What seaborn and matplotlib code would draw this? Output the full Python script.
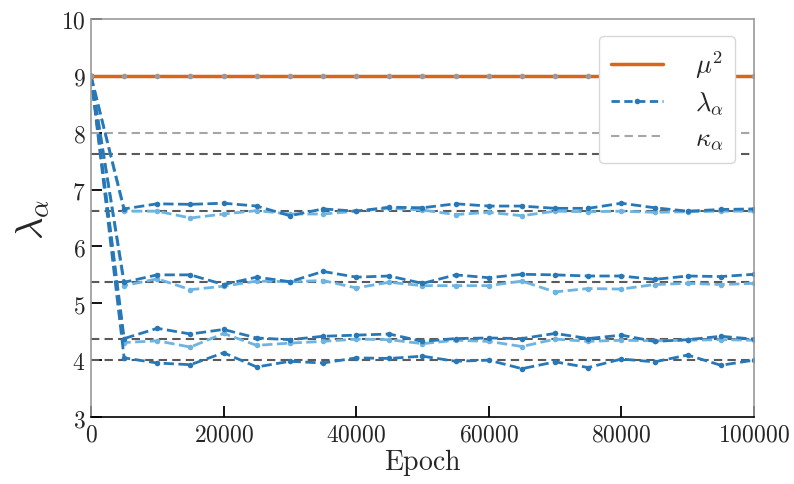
import matplotlib
matplotlib.use("Agg")
import matplotlib.pyplot as plt
from matplotlib.ticker import FuncFormatter, MultipleLocator, FixedLocator
from matplotlib.lines import Line2D
import seaborn as sns

# epochs sampled every 5000
epochs = list(range(0, 100001, 5000))

mu_sq = 9.0
kappa_light = [8.0]
kappa_dark = [7.62, 6.62, 5.38, 4.38, 4.0]

# lambda_alpha trajectories
lam_66_dark = [9, 6.66, 6.75, 6.74, 6.76, 6.71, 6.54, 6.66, 6.62, 6.69, 6.68,
               6.75, 6.71, 6.71, 6.67, 6.67, 6.76, 6.68, 6.62, 6.65, 6.66]
lam_66_light = [9, 6.62, 6.62, 6.50, 6.57, 6.63, 6.57, 6.57, 6.62, 6.67, 6.64,
                6.56, 6.60, 6.54, 6.62, 6.61, 6.62, 6.60, 6.61, 6.62, 6.62]
lam_54_dark = [9, 5.37, 5.50, 5.50, 5.33, 5.46, 5.38, 5.56, 5.46, 5.48, 5.35,
               5.50, 5.45, 5.51, 5.50, 5.48, 5.48, 5.42, 5.48, 5.47, 5.51]
lam_54_light = [9, 5.31, 5.43, 5.24, 5.30, 5.39, 5.38, 5.40, 5.27, 5.37, 5.31,
                5.31, 5.31, 5.39, 5.20, 5.26, 5.25, 5.33, 5.35, 5.33, 5.35]
lam_44_dark = [9, 4.38, 4.56, 4.46, 4.54, 4.39, 4.36, 4.42, 4.44, 4.46, 4.33,
               4.38, 4.39, 4.38, 4.47, 4.38, 4.44, 4.33, 4.36, 4.42, 4.37]
lam_44_light = [9, 4.31, 4.34, 4.23, 4.47, 4.26, 4.30, 4.33, 4.37, 4.36, 4.29,
                4.35, 4.33, 4.24, 4.37, 4.33, 4.35, 4.34, 4.35, 4.36, 4.35]
lam_40_dark = [9, 4.04, 3.95, 3.92, 4.13, 3.88, 3.98, 3.95, 4.04, 4.03, 4.07,
               3.98, 4.00, 3.85, 3.97, 3.87, 4.02, 3.97, 4.09, 3.91, 4.00]

dark_series = [lam_66_dark, lam_54_dark, lam_44_dark, lam_40_dark]
light_series = [lam_66_light, lam_54_light, lam_44_light]

sns.set_style("white")
plt.rcParams["font.family"] = ["DejaVu Serif"]
plt.rcParams["mathtext.fontset"] = "cm"

fig = plt.figure(figsize=(7.94, 4.85), dpi=100)
ax = fig.add_axes([0.1146, 0.1381, 0.835, 0.8207])

c_orange = "#d9641a"
c_dark = "#2878b8"
c_light = "#6db4e2"

# gray reference levels
for k in kappa_light:
    ax.axhline(k, color="#a6a6a6", ls="--", lw=1.5, dashes=(4, 2.5), zorder=1)
for k in kappa_dark:
    ax.axhline(k, color="#5a5a5a", ls="--", lw=1.5, dashes=(4, 2.5), zorder=1)

# mu^2
sns.lineplot(x=epochs, y=[mu_sq] * len(epochs), ax=ax, color=c_orange, lw=2.5,
             zorder=3)
ax.plot(epochs, [mu_sq] * len(epochs), ls="none", marker="o", ms=3,
        color="#9a9a9a", zorder=4)

for vals in light_series:
    sns.lineplot(x=epochs, y=vals, ax=ax, color=c_light, lw=2, ls="--",
                 dashes=(3, 1.6), marker="o", ms=4, markeredgewidth=0, zorder=2)
for vals in dark_series:
    sns.lineplot(x=epochs, y=vals, ax=ax, color=c_dark, lw=2, ls="--",
                 dashes=(3, 1.6), marker="o", ms=4, markeredgewidth=0, zorder=2)

ax.set_xlim(0, 100000)
ax.set_ylim(3, 10)
ax.xaxis.set_major_locator(MultipleLocator(20000))
ax.xaxis.set_minor_locator(MultipleLocator(5000))
ax.yaxis.set_major_locator(MultipleLocator(1))
ax.yaxis.set_minor_locator(FixedLocator(kappa_dark[:-1]))
fmt = FuncFormatter(lambda v, p: r"$%d$" % int(round(v)))
ax.xaxis.set_major_formatter(fmt)
ax.yaxis.set_major_formatter(fmt)
ax.tick_params(axis="both", which="major", direction="in", length=8, width=1.3,
               labelsize=17, color="black", pad=4)
ax.tick_params(axis="both", which="minor", direction="in", length=4, width=1.0,
               color="black")
ax.tick_params(top=False, right=False, left=True, bottom=True)

for side in ["left", "right", "top"]:
    ax.spines[side].set_color("#999999")
    ax.spines[side].set_linewidth(1.2)
ax.spines["bottom"].set_color("black")
ax.spines["bottom"].set_linewidth(1.2)

ax.set_xlabel(r"$\mathrm{Epoch}$", fontsize=20, labelpad=0)
ax.set_ylabel(r"$\lambda_\alpha$", fontsize=28, labelpad=6)

# legend proxies
handles = [
    Line2D([], [], color=c_orange, lw=2.5),
    Line2D([], [], color=c_dark, lw=2, ls="--", dashes=(3, 1.6), marker="o",
           ms=4, markeredgewidth=0, markevery=[1]),
    Line2D([], [], color="#a6a6a6", lw=1.5, ls="--", dashes=(4, 2.5)),
]
leg = ax.legend(handles, [r"$\mu^2$", r"$\lambda_\alpha$", r"$\kappa_\alpha$"],
                loc="upper right", bbox_to_anchor=(0.98, 0.97), fontsize=19,
                frameon=True, fancybox=True, framealpha=1.0, handlelength=2.0,
                labelspacing=0.35, borderpad=0.45, handletextpad=1.2,
                borderaxespad=0.2)
leg.get_frame().set_edgecolor("#d8d8d8")
leg.get_frame().set_linewidth(1.0)

fig.savefig("out.png", dpi=100)
